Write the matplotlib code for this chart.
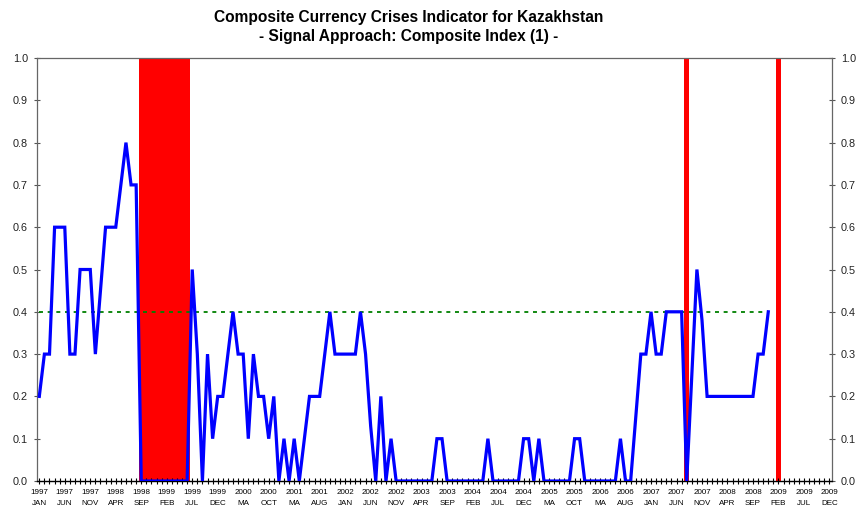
import matplotlib
matplotlib.use("Agg")
import matplotlib.pyplot as plt
import numpy as np

# ---- data ----
tick_labels = ["1997\nJAN", "1997\nJUN", "1997\nNOV", "1998\nAPR", "1998\nSEP", "1999\nFEB",
               "1999\nJUL", "1999\nDEC", "2000\nMA", "2000\nOCT", "2001\nMA", "2001\nAUG",
               "2002\nJAN", "2002\nJUN", "2002\nNOV", "2003\nAPR", "2003\nSEP", "2004\nFEB",
               "2004\nJUL", "2004\nDEC", "2005\nMA", "2005\nOCT", "2006\nMA", "2006\nAUG",
               "2007\nJAN", "2007\nJUN", "2007\nNOV", "2008\nAPR", "2008\nSEP", "2009\nFEB",
               "2009\nJUL", "2009\nDEC"]
n_months = 156  # Jan 1997 .. Dec 2009

composite_index = [
    0.2, 0.3, 0.3, 0.6, 0.6, 0.6, 0.3, 0.3, 0.5, 0.5, 0.5, 0.3,      # 1997
    0.45, 0.6, 0.6, 0.6, 0.7, 0.8, 0.7, 0.7, 0.0, 0.0, 0.0, 0.0,     # 1998
    0.0, 0.0, 0.0, 0.0, 0.0, 0.0, 0.5, 0.3, 0.0, 0.3, 0.1, 0.2,      # 1999
    0.2, 0.3, 0.4, 0.3, 0.3, 0.1, 0.3, 0.2, 0.2, 0.1, 0.2, 0.0,      # 2000
    0.1, 0.0, 0.1, 0.0, 0.1, 0.2, 0.2, 0.2, 0.3, 0.4, 0.3, 0.3,      # 2001
    0.3, 0.3, 0.3, 0.4, 0.3, 0.13, 0.0, 0.2, 0.0, 0.1, 0.0, 0.0,     # 2002
    0.0, 0.0, 0.0, 0.0, 0.0, 0.0, 0.1, 0.1, 0.0, 0.0, 0.0, 0.0,      # 2003
    0.0, 0.0, 0.0, 0.0, 0.1, 0.0, 0.0, 0.0, 0.0, 0.0, 0.0, 0.1,      # 2004
    0.1, 0.0, 0.1, 0.0, 0.0, 0.0, 0.0, 0.0, 0.0, 0.1, 0.1, 0.0,      # 2005
    0.0, 0.0, 0.0, 0.0, 0.0, 0.0, 0.1, 0.0, 0.0, 0.15, 0.3, 0.3,     # 2006
    0.4, 0.3, 0.3, 0.4, 0.4, 0.4, 0.4, 0.0, 0.25, 0.5, 0.38, 0.2,    # 2007
    0.2, 0.2, 0.2, 0.2, 0.2, 0.2, 0.2, 0.2, 0.2, 0.3, 0.3, 0.4,      # 2008
]
threshold = [0.4] * len(composite_index)
crisis_months = [20, 21, 22, 23, 24, 25, 26, 27, 28, 29, 127, 145]

# ---- figure ----
plt.rcParams['font.family'] = ['Liberation Sans', 'DejaVu Sans']
fig = plt.figure(figsize=(8.59, 5.16), dpi=100)
ax = fig.add_axes([37/859, 1-481/516, (832-37)/859, (481-58)/516])

x = np.arange(len(composite_index))
ax.bar(crisis_months, [1.0]*len(crisis_months), width=1.0, color='#FF0000',
       align='center', zorder=1, linewidth=0)
ax.plot(x, threshold, color='#008000', lw=1.3, linestyle=(0, (2.2, 2.6)), zorder=2)
ax.plot(x, composite_index, color='#0000FF', lw=2.3, zorder=3, solid_joinstyle='miter')

ax.set_xlim(-0.45, n_months - 0.5)
ax.set_ylim(0, 1.0)

ax.set_xticks(np.arange(0, n_months, 5))
ax.set_xticklabels(tick_labels, fontsize=5.8, linespacing=1.7)
ax.set_xticks(np.arange(0, n_months), minor=True)
ax.tick_params(axis='x', which='both', direction='inout', length=4, width=0.8,
               color='#000000', pad=4)
ax.set_yticks(np.round(np.arange(0, 1.01, 0.1), 1))
ax.set_yticklabels([f"{v:.1f}" for v in np.arange(0, 1.01, 0.1)])
ax.tick_params(axis='y', which='major', direction='inout', length=5, width=0.8,
               color='#555555', labelsize=7.8, labelcolor='#222222',
               left=True, right=True, labelleft=True, labelright=True, pad=4)

for s in ['left', 'right', 'top']:
    ax.spines[s].set_color('#666666')
    ax.spines[s].set_linewidth(0.9)
ax.spines['bottom'].set_color('#000000')
ax.spines['bottom'].set_linewidth(1.0)

fig.text(409/859, 1-17/516, "Composite Currency Crises Indicator for Kazakhstan",
         ha='center', va='center', fontsize=11.2, fontweight='bold')
fig.text(409/859, 1-37/516, "- Signal Approach: Composite Index (1) -",
         ha='center', va='center', fontsize=11.2, fontweight='bold')

fig.savefig("out.png", dpi=100)
